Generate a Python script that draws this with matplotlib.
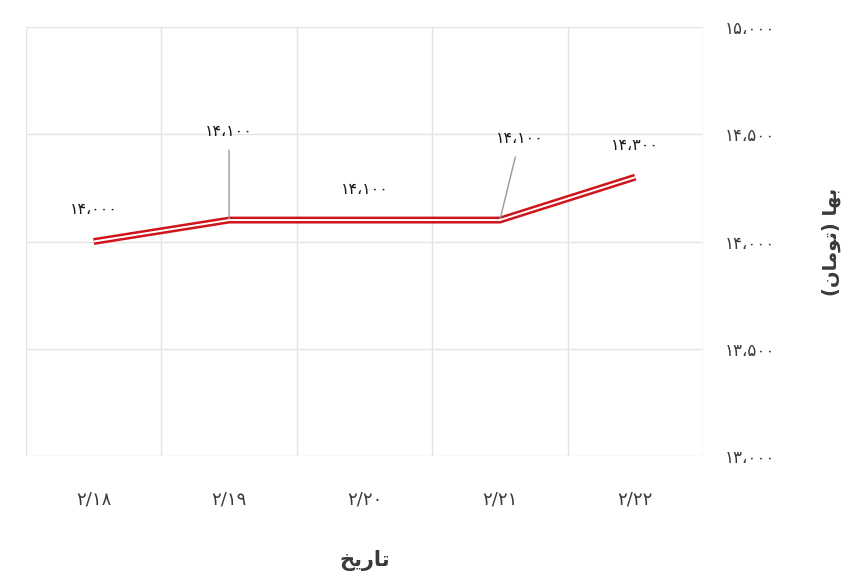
import matplotlib.pyplot as plt
import numpy as np

# data (Persian labels; Arabic words written in presentation forms, visual order)
dates = ["۲/۱۸", "۲/۱۹", "۲/۲۰", "۲/۲۱", "۲/۲۲"]
prices = [14000, 14100, 14100, 14100, 14300]
price_labels = ["۱۴،۰۰۰", "۱۴،۱۰۰", "۱۴،۱۰۰", "۱۴،۱۰۰", "۱۴،۳۰۰"]
y_ticks = [13000, 13500, 14000, 14500, 15000]
y_tick_labels = ["۱۳،۰۰۰", "۱۳،۵۰۰", "۱۴،۰۰۰", "۱۴،۵۰۰", "۱۵،۰۰۰"]
x_title = "\uFEA6\uFEF3\uFEAD\uFE8E\uFE97"  # تاریخ
y_title = "(\uFEE5\uFE8E\uFEE3\uFEEE\uFE97) \uFE8E\uFEEC\uFE91"  # بها (تومان)

# label offsets in pixels (dx, dy) and whether a leader line is drawn
label_offsets = [(0, 32), (0, 81), (0, 31), (20, 74), (0, 32)]
leaders = [False, True, False, True, False]

plt.rcParams["font.family"] = ["DejaVu Sans"]

fig = plt.figure(figsize=(8.6, 5.83), dpi=100)
ax = fig.add_axes([0.0302, 0.2178, 0.7872, 0.7359])

x = np.arange(len(dates))
ax.plot(x, prices, color="#d0141c", lw=5.0, solid_capstyle="butt", zorder=3)
ax.plot(x, prices, color="white", lw=1.4, solid_capstyle="butt", zorder=4)

for i, (lab, (dx, dy), lead) in enumerate(zip(price_labels, label_offsets, leaders)):
    if lead:
        ax.annotate(lab, (x[i], prices[i]), xytext=(dx, dy), textcoords="offset pixels",
                    ha="center", va="bottom", fontsize=11.5, color="#1a1a1a",
                    arrowprops=dict(arrowstyle="-", color="#999999", lw=1,
                                    shrinkA=6, shrinkB=0))
    else:
        ax.annotate(lab, (x[i], prices[i]), xytext=(dx, dy), textcoords="offset pixels",
                    ha="center", va="center", fontsize=11.5, color="#1a1a1a")

ax.set_xlim(-0.5, len(dates) - 0.5)
ax.set_ylim(13000, 15000)
ax.set_xticks(x)
ax.set_xticklabels(dates, fontsize=13, color="#3a3a3a")
ax.set_xticks(np.arange(-0.5, len(dates), 1), minor=True)
ax.set_yticks(y_ticks)
ax.set_yticklabels(y_tick_labels, fontsize=12, color="#3a3a3a")
ax.yaxis.tick_right()
ax.yaxis.set_label_position("right")
ax.tick_params(axis="x", which="both", length=0, pad=25)
ax.tick_params(axis="y", length=0, pad=16)
ax.grid(axis="y", color="#e4e4e4", lw=1)
ax.grid(axis="x", which="minor", color="#e4e4e4", lw=1)
for s in ax.spines.values():
    s.set_visible(False)

ax.set_xlabel(x_title, fontsize=15, fontweight="bold", color="#3a3a3a", labelpad=30)
ax.set_ylabel(y_title, fontsize=14, fontweight="bold", color="#3a3a3a",
              rotation=90, labelpad=33)

fig.savefig("out.png", dpi=100)
